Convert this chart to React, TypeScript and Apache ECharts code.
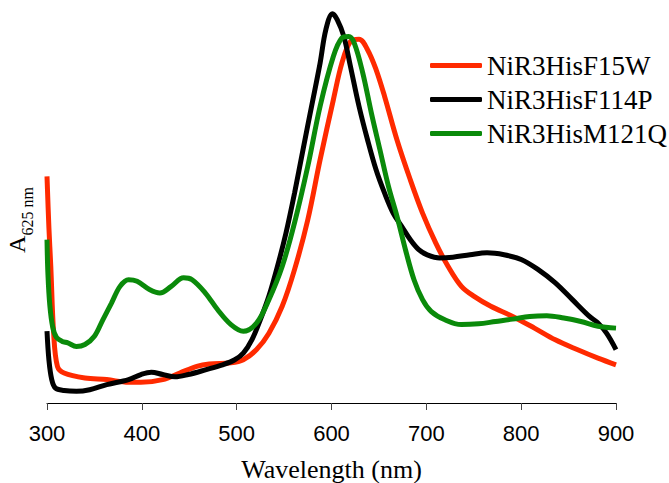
import React, { useEffect, useRef } from "react";
import * as echarts from "echarts";

const seriesNames = ["NiR3HisF15W", "NiR3HisF114P", "NiR3HisM121Q"];
const seriesColors = ["#ff2a00", "#000000", "#0a8a0a"];

const xTicks = [300, 400, 500, 600, 700, 800, 900];

const redData: [number, number][] = [
  [300, 0.581], [302, 0.45], [304, 0.35], [307, 0.179], [311, 0.094], [318, 0.077],
  [340, 0.064], [363, 0.06], [386, 0.053], [399, 0.053], [422, 0.06], [440, 0.077],
  [458, 0.094], [471, 0.1], [494, 0.103], [507, 0.111], [521, 0.137], [534, 0.179],
  [548, 0.248], [561, 0.342], [575, 0.47], [588, 0.624], [602, 0.778], [611, 0.872],
  [620, 0.927], [629, 0.933], [638, 0.906], [647, 0.855], [656, 0.786], [669, 0.675],
  [683, 0.573], [696, 0.487], [710, 0.41], [723, 0.35], [737, 0.299], [750, 0.274],
  [768, 0.248], [791, 0.222], [814, 0.192], [836, 0.162], [859, 0.137], [881, 0.115],
  [900, 0.098],
];

const blackData: [number, number][] = [
  [300, 0.184], [302, 0.111], [305, 0.06], [309, 0.038], [318, 0.032], [331, 0.03],
  [345, 0.034], [363, 0.047], [386, 0.06], [399, 0.073], [410, 0.079], [422, 0.073],
  [435, 0.067], [449, 0.073], [467, 0.085], [485, 0.098], [498, 0.111], [507, 0.128],
  [516, 0.162], [525, 0.214], [534, 0.274], [543, 0.35], [552, 0.436], [561, 0.538],
  [570, 0.65], [579, 0.761], [588, 0.872], [594, 0.957], [601, 0.998], [606, 0.983],
  [613, 0.94], [620, 0.863], [629, 0.761], [638, 0.675], [647, 0.598], [656, 0.538],
  [665, 0.487], [674, 0.453], [683, 0.419], [692, 0.393], [701, 0.38], [714, 0.372],
  [728, 0.374], [746, 0.38], [764, 0.385], [782, 0.38], [800, 0.368], [818, 0.342],
  [836, 0.308], [854, 0.265], [872, 0.222], [881, 0.205], [890, 0.179], [900, 0.137],
];

const greenData: [number, number][] = [
  [300, 0.419], [301, 0.33], [303, 0.25], [306, 0.195], [310, 0.168], [316, 0.158], [322, 0.154],
  [331, 0.145], [340, 0.15], [350, 0.171], [359, 0.214], [368, 0.256], [377, 0.299],
  [386, 0.316], [395, 0.312], [408, 0.291], [419, 0.282], [431, 0.299], [444, 0.321],
  [453, 0.316], [467, 0.282], [480, 0.239], [494, 0.201], [507, 0.184], [521, 0.205],
  [534, 0.265], [548, 0.35], [561, 0.462], [575, 0.607], [588, 0.761], [602, 0.889],
  [611, 0.936], [618, 0.94], [624, 0.923], [633, 0.846], [642, 0.744], [651, 0.65],
  [660, 0.556], [669, 0.479], [678, 0.393], [687, 0.316], [696, 0.265], [705, 0.235],
  [719, 0.214], [737, 0.201], [755, 0.203], [773, 0.209], [791, 0.215], [809, 0.222],
  [827, 0.224], [845, 0.218], [863, 0.209], [881, 0.197], [900, 0.192],
];

const seriesData = [redData, blackData, greenData];

const SERIF = "Liberation Serif";
const SANS = "Liberation Sans";

export default function App() {
  const ref = useRef<HTMLDivElement>(null);
  useEffect(() => {
    if (!ref.current) return;
    const chart = echarts.init(ref.current, undefined, { renderer: "svg" });
    chart.setOption({
      animation: false,
      backgroundColor: "#ffffff",
      textStyle: { fontFamily: SERIF },
      grid: { left: 47, right: 53, top: 13, bottom: 80, outerBoundsMode: "none" },
      legend: {
        orient: "vertical",
        left: 425,
        top: 47,
        itemWidth: 52,
        itemHeight: 5,
        itemGap: 7,
        icon: "roundRect",
        textStyle: {
          fontFamily: SERIF,
          fontSize: 27,
          color: "#000",
        },
        data: seriesNames,
      },
      xAxis: {
        type: "value",
        min: xTicks[0],
        max: xTicks[xTicks.length - 1],
        interval: 100,
        name: "Wavelength (nm)",
        nameLocation: "middle",
        nameGap: 53,
        nameTextStyle: { fontFamily: SERIF, fontSize: 26, color: "#000" },
        axisLine: { show: true, lineStyle: { color: "#000", width: 1 } },
        axisTick: { show: true, length: 7, lineStyle: { color: "#444", width: 1 } },
        axisLabel: {
          fontFamily: SANS,
          fontSize: 22,
          color: "#000",
          margin: 19,
        },
        splitLine: { show: false },
      },
      yAxis: {
        type: "value",
        min: 0,
        max: 1,
        show: false,
      },
      graphic: [
        {
          type: "text",
          x: 17,
          y: 220,
          rotation: Math.PI / 2,
          style: {
            text: "{a|A}{b|625 nm}",
            align: "center",
            verticalAlign: "middle",
            rich: {
              a: { fontFamily: SERIF, fontSize: 24, color: "#000", verticalAlign: "bottom" },
              b: { fontFamily: SERIF, fontSize: 16, color: "#000", verticalAlign: "bottom", padding: [0, 0, -6, 0] },
            },
          },
        },
      ],
      series: seriesNames.map((name, i) => ({
        name,
        type: "line",
        data: seriesData[i],
        smooth: 0.35,
        showSymbol: false,
        symbol: "none",
        lineStyle: { color: seriesColors[i], width: 5 },
        itemStyle: { color: seriesColors[i] },
      })),
    });
    return () => chart.dispose();
  }, []);
  return <div ref={ref} style={{ width: 669, height: 483, position: "absolute", left: 0, top: 0 }} />;
}
